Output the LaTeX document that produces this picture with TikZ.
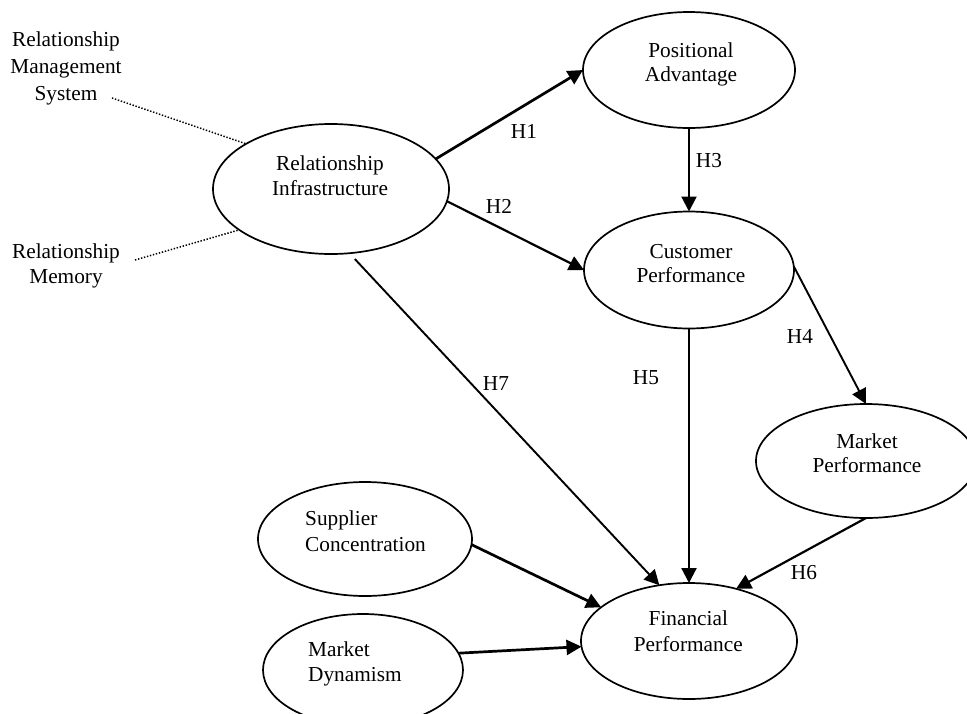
\documentclass[tikz,border=0pt]{standalone}
\usepackage{fontspec}
\setmainfont{Liberation Serif}
\usetikzlibrary{shapes.geometric,arrows.meta}
\begin{document}
\begin{tikzpicture}[x=1pt,y=-1pt,
  bubble/.style={draw, ellipse, line width=1.7pt, inner sep=0pt, outer sep=0pt},
  txt/.style={font=\fontsize{21.3}{25}\selectfont, inner sep=0pt, anchor=base},
  txtl/.style={txt, anchor=base west},
  arr/.style={line width=2.2pt, -{Triangle[length=15pt,width=15pt]}},
  thickarr/.style={arr, line width=2.7pt},
  thinarr/.style={arr, line width=1.9pt},
  dots/.style={line width=1.5pt, dash pattern=on 1.4pt off 1.7pt}
]
\fill[white] (0,0) rectangle (967,713);
\useasboundingbox (0,0) rectangle (967,713);
\clip (0,0) rectangle (967,713);

% ellipses
\node[bubble, minimum width=236pt, minimum height=130pt] (ri) at (331,189) {};
\node[bubble, minimum width=212pt, minimum height=116pt] (pa) at (689,70) {};
\node[bubble, minimum width=210pt, minimum height=117pt] (cp) at (689,270) {};
\node[bubble, minimum width=220pt, minimum height=114pt] (mp) at (866,461) {};
\node[bubble, minimum width=214pt, minimum height=114pt] (sc) at (365,539) {};
\node[bubble, minimum width=200pt, minimum height=112pt] (md) at (363,670) {};
\node[bubble, minimum width=216pt, minimum height=116pt] (fp) at (689,641) {};

% texts inside ellipses
\node[txt] (ri1) at (330,170.7) {Relationship};
\node[txt] (ri2) at (330,195) {Infrastructure};
\node[txt] (pa1) at (691,57.3) {Positional};
\node[txt] (pa2) at (691,81.7) {Advantage};
\node[txt] (cp1) at (691,258.3) {Customer};
\node[txt] (cp2) at (691,282.7) {Performance};
\node[txt] (mp1) at (867,448.3) {Market};
\node[txt] (mp2) at (867,472.7) {Performance};
\node[txtl] (sc1) at (305,525) {Supplier};
\node[txtl] (sc2) at (305,551) {Concentration};
\node[txtl] (md1) at (308,656.7) {Market};
\node[txtl] (md2) at (308,681.7) {Dynamism};
\node[txt] (fp1) at (688.3,625.7) {Financial};
\node[txt] (fp2) at (688.3,651.7) {Performance};

% outside indicator labels
\node[txt] (rms1) at (66,46.7) {Relationship};
\node[txt] (rms2) at (66,73.3) {Management};
\node[txt] (rms3) at (66,100) {System};
\node[txt] (rm1) at (66,258.3) {Relationship};
\node[txt] (rm2) at (66,283.3) {Memory};

\coordinate (rmsend) at (112,98);
\coordinate (rmend) at (135,260);
\draw[dots] (rmsend) -- (ri.152);
\draw[dots] (rmend) -- (ri.204);

% arrows
\draw[thickarr] (ri.16) -- (pa.west);
\draw[arr] (ri.-6) -- (cp.west);
\draw[arr] (pa.south) -- (cp.north);
\draw[thinarr] (cp.2) -- (mp.north);
\draw[arr] (cp.south) -- (fp.north);
\draw[arr] (mp.south) -- (fp.48);
\draw[thinarr, shorten <=8pt] (ri.-74) -- (fp.118);
\draw[thickarr] (sc.-3) -- (fp.159);
\draw[thickarr] (md.10) -- (fp.183);

% hypothesis labels
\node[txt] (h1) at (524,138.3) {H1};
\node[txt] (h2) at (499,213.3) {H2};
\node[txt] (h3) at (709,167.7) {H3};
\node[txt] (h4) at (800,343.3) {H4};
\node[txt] (h5) at (646,384.3) {H5};
\node[txt] (h7) at (496,390) {H7};
\node[txt] (h6) at (804,579) {H6};
\end{tikzpicture}
\end{document}
